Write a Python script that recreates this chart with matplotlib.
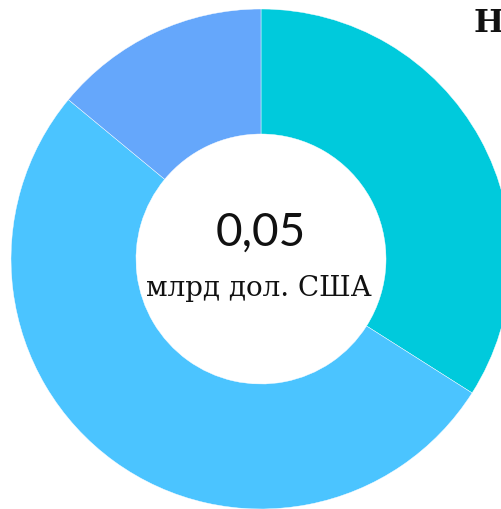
import matplotlib
matplotlib.use("Agg")
import matplotlib.pyplot as plt

# - Data -----------------------------------------------------------------------
shares = [34, 52, 14]
colors = ["#00CADC", "#4BC4FF", "#65A7FB"]
center_value = "0,05"
center_unit = "млрд дол. США"
title = "Н"

# - Plot -----------------------------------------------------------------------
W, H = 502, 510
fig = plt.figure(figsize=(W / 100, H / 100), dpi=100)
ax = fig.add_axes([0, 0, 1, 1])

cx, cy, r = 261, H - 260, 250
ax.pie(shares, colors=colors, startangle=90, counterclock=False,
       center=(cx, cy), radius=r,
       wedgeprops=dict(width=r * 0.5, edgecolor="white", linewidth=0.3))
ax.set_xlim(0, W)
ax.set_ylim(0, H)
ax.set_aspect("equal")
ax.axis("off")

ax.text(cx, H - 233, center_value, ha="center", va="center",
        fontsize=33, family="Lato", color="#111111")
ax.text(cx - 2, H - 289, center_unit, ha="center", va="center",
        fontsize=20, family="DejaVu Serif", color="#111111")
ax.text(474, H - 24, title, ha="left", va="center",
        fontsize=23, family="DejaVu Serif", fontweight="bold", color="#111111")

fig.savefig("out.png", dpi=100)
